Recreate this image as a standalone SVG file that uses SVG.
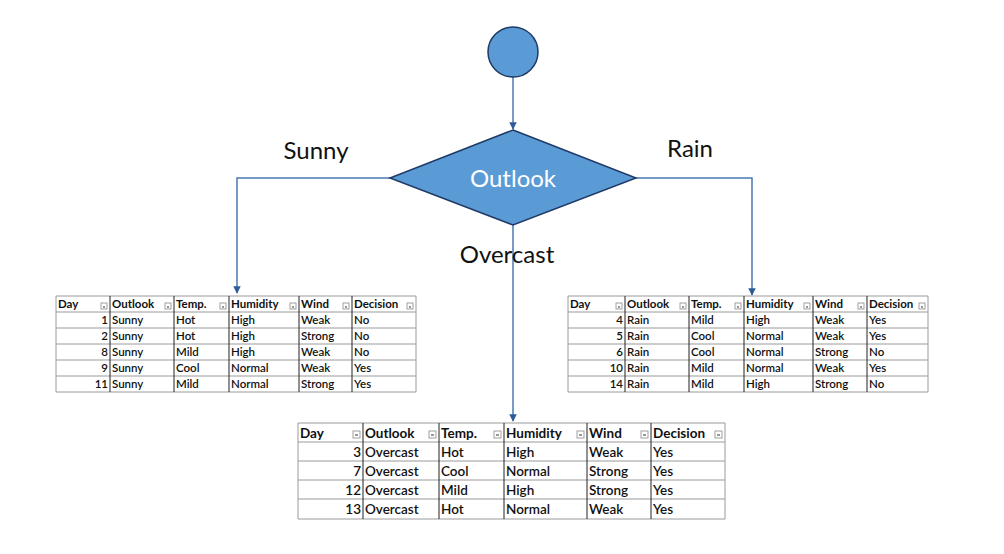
<svg xmlns="http://www.w3.org/2000/svg" width="1004" height="554" viewBox="0 0 1004 554">
<style>
.lbl{font-family:Lato,"Open Sans","Liberation Sans",sans-serif;font-size:24px;fill:#111}
.node{fill:#5B9BD5;stroke:#1F3A66;stroke-width:1.5}
.conn{fill:none;stroke:#4A7AB4;stroke-width:1.5}
.t{font-family:Lato,"Liberation Sans",sans-serif;font-size:11.5px;fill:#111;font-weight:600}
.tb{font-family:Lato,"Liberation Sans",sans-serif;font-size:13.5px;fill:#111;font-weight:600}
.h{font-weight:700}
.hl{stroke:#9a9a9a;stroke-width:1}
.vl{stroke:#222;stroke-width:1}
.dd{fill:#fff;stroke:#888;stroke-width:0.8}
.ddm{stroke:#333;stroke-width:1}
</style>
<defs>
<marker id="arr" viewBox="0 0 10 10" refX="9" refY="5" markerWidth="5" markerHeight="5" orient="auto" markerUnits="strokeWidth">
<path d="M0,0 L10,5 L0,10 z" fill="#2E5C99"/>
</marker>
</defs>
<rect width="1004" height="554" fill="#fff"/>

<g id="connectors">
<path class="conn" d="M513,77 V129" marker-end="url(#arr)"/>
<path class="conn" d="M390,178 H237 V293" marker-end="url(#arr)"/>
<path class="conn" d="M636,178 H752 V295" marker-end="url(#arr)"/>
<path class="conn" d="M513,225 V421" marker-end="url(#arr)"/>
</g>

<g id="start">
<circle class="node" cx="513" cy="52" r="25"/>
</g>

<g id="outlook">
<polygon class="node" points="513,130 636,178 513,225 390,178"/>
<text x="513" y="187" text-anchor="middle" font-family="Lato,'Open Sans','Liberation Sans',sans-serif" font-size="24" fill="#fff">Outlook</text>
</g>

<g id="labels">
<text class="lbl" x="316" y="159" text-anchor="middle">Sunny</text>
<text class="lbl" x="690" y="157" text-anchor="middle">Rain</text>
<text class="lbl" x="507" y="263" text-anchor="middle">Overcast</text>
</g>

<g id="table-sunny">
<rect x="56" y="296" width="360" height="96" fill="#fff"/>
<g class="hl">
<line x1="56" y1="296" x2="416" y2="296"/><line x1="56" y1="312" x2="416" y2="312"/>
<line x1="56" y1="328" x2="416" y2="328"/><line x1="56" y1="344" x2="416" y2="344"/>
<line x1="56" y1="360" x2="416" y2="360"/><line x1="56" y1="376" x2="416" y2="376"/>
<line x1="56" y1="392" x2="416" y2="392"/>
<line x1="56" y1="296" x2="56" y2="392"/><line x1="416" y1="296" x2="416" y2="392"/>
</g>
<g class="vl">
<line x1="110" y1="296" x2="110" y2="392"/><line x1="174" y1="296" x2="174" y2="392"/>
<line x1="229" y1="296" x2="229" y2="392"/><line x1="299" y1="296" x2="299" y2="392"/>
<line x1="352" y1="296" x2="352" y2="392"/>
</g>
<g>
<rect class="dd" x="101" y="303" width="6" height="6"/><rect class="dd" x="165" y="303" width="6" height="6"/>
<rect class="dd" x="220" y="303" width="6" height="6"/><rect class="dd" x="290" y="303" width="6" height="6"/>
<rect class="dd" x="343" y="303" width="6" height="6"/><rect class="dd" x="407" y="303" width="6" height="6"/>
<g class="ddm"><line x1="103" y1="307" x2="105" y2="307"/><line x1="167" y1="307" x2="169" y2="307"/>
<line x1="222" y1="307" x2="224" y2="307"/><line x1="292" y1="307" x2="294" y2="307"/>
<line x1="345" y1="307" x2="347" y2="307"/><line x1="409" y1="307" x2="411" y2="307"/></g>
</g>
<g class="t">
<text class="h" x="58" y="308">Day</text><text class="h" x="112" y="308">Outlook</text><text class="h" x="176" y="308">Temp.</text>
<text class="h" x="231" y="308">Humidity</text><text class="h" x="301" y="308">Wind</text><text class="h" x="354" y="308">Decision</text>
<text x="108" y="324" text-anchor="end">1</text><text x="112" y="324">Sunny</text><text x="176" y="324">Hot</text><text x="231" y="324">High</text><text x="301" y="324">Weak</text><text x="354" y="324">No</text>
<text x="108" y="340" text-anchor="end">2</text><text x="112" y="340">Sunny</text><text x="176" y="340">Hot</text><text x="231" y="340">High</text><text x="301" y="340">Strong</text><text x="354" y="340">No</text>
<text x="108" y="356" text-anchor="end">8</text><text x="112" y="356">Sunny</text><text x="176" y="356">Mild</text><text x="231" y="356">High</text><text x="301" y="356">Weak</text><text x="354" y="356">No</text>
<text x="108" y="372" text-anchor="end">9</text><text x="112" y="372">Sunny</text><text x="176" y="372">Cool</text><text x="231" y="372">Normal</text><text x="301" y="372">Weak</text><text x="354" y="372">Yes</text>
<text x="108" y="388" text-anchor="end">11</text><text x="112" y="388">Sunny</text><text x="176" y="388">Mild</text><text x="231" y="388">Normal</text><text x="301" y="388">Strong</text><text x="354" y="388">Yes</text>
</g>
</g>

<g id="table-rain">
<rect x="568" y="296" width="360" height="96" fill="#fff"/>
<g class="hl">
<line x1="568" y1="296" x2="928" y2="296"/><line x1="568" y1="312" x2="928" y2="312"/>
<line x1="568" y1="328" x2="928" y2="328"/><line x1="568" y1="344" x2="928" y2="344"/>
<line x1="568" y1="360" x2="928" y2="360"/><line x1="568" y1="376" x2="928" y2="376"/>
<line x1="568" y1="392" x2="928" y2="392"/>
<line x1="568" y1="296" x2="568" y2="392"/><line x1="928" y1="296" x2="928" y2="392"/>
</g>
<g class="vl">
<line x1="625" y1="296" x2="625" y2="392"/><line x1="689" y1="296" x2="689" y2="392"/>
<line x1="744" y1="296" x2="744" y2="392"/><line x1="813" y1="296" x2="813" y2="392"/>
<line x1="867" y1="296" x2="867" y2="392"/>
</g>
<g>
<rect class="dd" x="616" y="303" width="6" height="6"/><rect class="dd" x="680" y="303" width="6" height="6"/>
<rect class="dd" x="735" y="303" width="6" height="6"/><rect class="dd" x="804" y="303" width="6" height="6"/>
<rect class="dd" x="858" y="303" width="6" height="6"/><rect class="dd" x="919" y="303" width="6" height="6"/>
<g class="ddm"><line x1="618" y1="307" x2="620" y2="307"/><line x1="682" y1="307" x2="684" y2="307"/>
<line x1="737" y1="307" x2="739" y2="307"/><line x1="806" y1="307" x2="808" y2="307"/>
<line x1="860" y1="307" x2="862" y2="307"/><line x1="921" y1="307" x2="923" y2="307"/></g>
</g>
<g class="t">
<text class="h" x="570" y="308">Day</text><text class="h" x="627" y="308">Outlook</text><text class="h" x="691" y="308">Temp.</text>
<text class="h" x="746" y="308">Humidity</text><text class="h" x="815" y="308">Wind</text><text class="h" x="869" y="308">Decision</text>
<text x="623" y="324" text-anchor="end">4</text><text x="627" y="324">Rain</text><text x="691" y="324">Mild</text><text x="746" y="324">High</text><text x="815" y="324">Weak</text><text x="869" y="324">Yes</text>
<text x="623" y="340" text-anchor="end">5</text><text x="627" y="340">Rain</text><text x="691" y="340">Cool</text><text x="746" y="340">Normal</text><text x="815" y="340">Weak</text><text x="869" y="340">Yes</text>
<text x="623" y="356" text-anchor="end">6</text><text x="627" y="356">Rain</text><text x="691" y="356">Cool</text><text x="746" y="356">Normal</text><text x="815" y="356">Strong</text><text x="869" y="356">No</text>
<text x="623" y="372" text-anchor="end">10</text><text x="627" y="372">Rain</text><text x="691" y="372">Mild</text><text x="746" y="372">Normal</text><text x="815" y="372">Weak</text><text x="869" y="372">Yes</text>
<text x="623" y="388" text-anchor="end">14</text><text x="627" y="388">Rain</text><text x="691" y="388">Mild</text><text x="746" y="388">High</text><text x="815" y="388">Strong</text><text x="869" y="388">No</text>
</g>
</g>

<g id="table-overcast">
<rect x="298" y="423" width="427" height="96" fill="#fff"/>
<g class="hl">
<line x1="298" y1="423" x2="725" y2="423"/><line x1="298" y1="442" x2="725" y2="442"/>
<line x1="298" y1="461" x2="725" y2="461"/><line x1="298" y1="480" x2="725" y2="480"/>
<line x1="298" y1="499" x2="725" y2="499"/><line x1="298" y1="519" x2="725" y2="519"/>
<line x1="298" y1="423" x2="298" y2="519"/><line x1="725" y1="423" x2="725" y2="519"/>
</g>
<g class="vl">
<line x1="363" y1="423" x2="363" y2="519"/><line x1="439" y1="423" x2="439" y2="519"/>
<line x1="504" y1="423" x2="504" y2="519"/><line x1="587" y1="423" x2="587" y2="519"/>
<line x1="651" y1="423" x2="651" y2="519"/>
</g>
<g>
<rect class="dd" x="353" y="431" width="7" height="7"/><rect class="dd" x="429" y="431" width="7" height="7"/>
<rect class="dd" x="494" y="431" width="7" height="7"/><rect class="dd" x="577" y="431" width="7" height="7"/>
<rect class="dd" x="641" y="431" width="7" height="7"/><rect class="dd" x="715" y="431" width="7" height="7"/>
<g class="ddm"><line x1="355" y1="435" x2="358" y2="435"/><line x1="431" y1="435" x2="434" y2="435"/>
<line x1="496" y1="435" x2="499" y2="435"/><line x1="579" y1="435" x2="582" y2="435"/>
<line x1="643" y1="435" x2="646" y2="435"/><line x1="717" y1="435" x2="720" y2="435"/></g>
</g>
<g class="tb">
<text class="h" x="300" y="438">Day</text><text class="h" x="365" y="438">Outlook</text><text class="h" x="441" y="438">Temp.</text>
<text class="h" x="506" y="438">Humidity</text><text class="h" x="589" y="438">Wind</text><text class="h" x="653" y="438">Decision</text>
<text x="361" y="457" text-anchor="end">3</text><text x="365" y="457">Overcast</text><text x="441" y="457">Hot</text><text x="506" y="457">High</text><text x="589" y="457">Weak</text><text x="653" y="457">Yes</text>
<text x="361" y="476" text-anchor="end">7</text><text x="365" y="476">Overcast</text><text x="441" y="476">Cool</text><text x="506" y="476">Normal</text><text x="589" y="476">Strong</text><text x="653" y="476">Yes</text>
<text x="361" y="495" text-anchor="end">12</text><text x="365" y="495">Overcast</text><text x="441" y="495">Mild</text><text x="506" y="495">High</text><text x="589" y="495">Strong</text><text x="653" y="495">Yes</text>
<text x="361" y="514" text-anchor="end">13</text><text x="365" y="514">Overcast</text><text x="441" y="514">Hot</text><text x="506" y="514">Normal</text><text x="589" y="514">Weak</text><text x="653" y="514">Yes</text>
</g>
</g>
</svg>
